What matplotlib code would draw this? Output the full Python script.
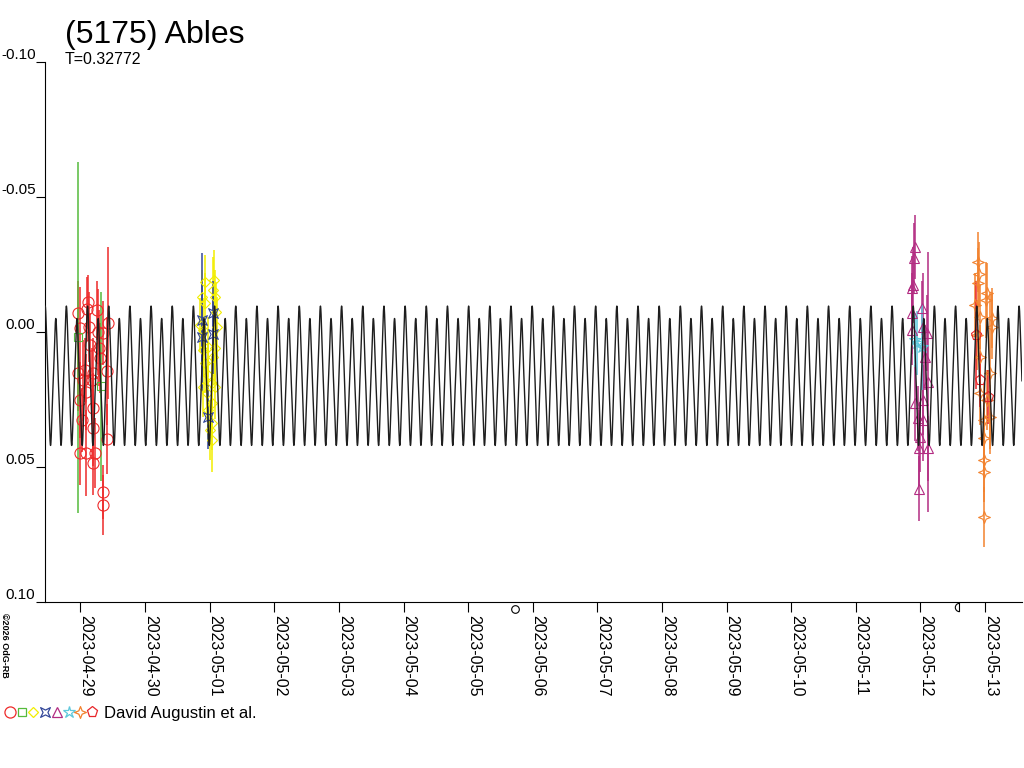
import numpy as np
import matplotlib
matplotlib.use('Agg')
import matplotlib.pyplot as plt
import matplotlib.dates as mdates
from matplotlib.path import Path
from matplotlib.transforms import blended_transform_factory, ScaledTranslation
from datetime import datetime

plt.rcParams['font.family'] = ['Liberation Sans', 'DejaVu Sans']

# ---------------- text ----------------
TITLE = '(5175) Ables'
PERIOD_TEXT = 'T=0.32772'
CREDIT = 'David Augustin et al.'
COPYRIGHT = '\u00a92026 OdG-RB'

# ---------------- data ----------------
DAY0 = datetime(2023, 4, 29)          # times below are days after this date (UTC)
PERIOD = 0.32772                      # days

# model light curve: mag = c0 + sum a_k cos(2 pi k phase)
model_epoch = 5.025                   # days after DAY0 (main maximum)
model_c0 = 0.01735
model_cos = [-0.0023, -0.0222, 0.0, 0.0, 0.0, -0.00245]

red_t = [-0.039, 0.116, 0.101, 0.255, 0.426, -0.008, 0.132, 0.271, 0.348, 0.286,
         0.302, 0.070, -0.039, 0.410, 0.193, 0.039, 0.178, -0.008, 0.193, 0.023,
         0.193, 0.410, -0.008, 0.224, 0.085, 0.193, 0.348, 0.348, 0.147, 0.085]
red_mag = [-0.0070, -0.0110, -0.0085, -0.0080, -0.0033, -0.0015, -0.0019, 0.0000, 0.0004, 0.0059,
           0.0096, 0.0141, 0.0152, 0.0144, 0.0152, 0.0178, 0.0178, 0.0252, 0.0281, 0.0326,
           0.0356, 0.0396, 0.0448, 0.0448, 0.0448, 0.0485, 0.0593, 0.0641, 0.0048, 0.0222]
red_err = [0.012, 0.010, 0.012, 0.011, 0.028, 0.015, 0.013, 0.016, 0.012, 0.014,
           0.013, 0.012, 0.014, 0.020, 0.013, 0.015, 0.012, 0.014, 0.013, 0.012,
           0.014, 0.013, 0.012, 0.013, 0.016, 0.012, 0.010, 0.011, 0.012, 0.014]

green_t = [-0.039, 0.317]
green_mag = [0.0019, 0.0200]
green_err = [0.065, 0.035]

yellow_t = [1.881, 1.927, 2.051, 2.082, 2.098, 1.850, 1.896, 2.113, 1.896, 1.974,
            2.082, 2.051, 1.927, 1.974, 2.036, 1.896, 2.082, 1.958, 2.036, 1.974,
            2.036, 2.005, 2.036, 1.927, 2.067]
yellow_mag = [-0.0130, -0.0107, -0.0156, -0.0130, -0.0074, -0.0026, -0.0007, -0.0019, 0.0067, 0.0056,
              0.0059, 0.0093, 0.0115, 0.0159, 0.0189, 0.0204, 0.0204, 0.0226, 0.0263, 0.0289,
              0.0337, 0.0363, 0.0400, -0.0185, -0.0193]
yellow_err = [0.010, 0.011, 0.012, 0.010, 0.011, 0.010, 0.012, 0.011, 0.010, 0.011,
              0.012, 0.010, 0.011, 0.012, 0.010, 0.011, 0.012, 0.010, 0.011, 0.012,
              0.010, 0.011, 0.012, 0.010, 0.011]

blue_t = [1.881, 1.881, 2.051, 2.051, 1.974]
blue_mag = [-0.0044, 0.0019, -0.0070, 0.0007, 0.0315]
blue_err = [0.025, 0.020, 0.012, 0.015, 0.012]

magenta_t = [12.918, 12.903, 12.887, 12.872, 12.872, 13.026, 12.872, 13.042, 13.104, 13.073,
             13.119, 13.042, 12.918, 12.964, 13.042, 12.995, 12.980, 13.119, 12.980]
magenta_mag = [-0.0315, -0.0274, -0.0174, -0.0163, -0.0070, -0.0089, -0.0007, -0.0019, 0.0004, 0.0093,
               0.0185, 0.0252, 0.0263, 0.0319, 0.0326, 0.0389, 0.0430, 0.0430, 0.0581]
magenta_err = [0.012, 0.013, 0.014, 0.012, 0.015, 0.010, 0.013, 0.020, 0.014, 0.012,
               0.048, 0.013, 0.014, 0.012, 0.015, 0.013, 0.014, 0.012, 0.012]

cyan_t = [12.949, 13.026, 12.918]
cyan_mag = [0.0041, 0.0056, 0.0030]
cyan_err = [0.012, 0.016, 0.010]

orange_t = [13.893, 13.909, 13.893, 13.847, 14.033, 14.017, 13.924, 14.110, 13.878, 14.110,
            13.924, 14.079, 13.924, 14.033, 13.980, 14.079, 13.980, 13.980, 13.980, 13.980]
orange_mag = [-0.0259, -0.0215, -0.0181, -0.0100, -0.0144, -0.0119, -0.0056, -0.0052, 0.0011, -0.0019,
              0.0093, 0.0152, 0.0226, 0.0252, 0.0326, 0.0315, 0.0393, 0.0474, 0.0519, 0.0685]
orange_err = [0.011, 0.012, 0.013, 0.012, 0.011, 0.014, 0.012, 0.011, 0.013, 0.012,
              0.012, 0.030, 0.012, 0.011, 0.013, 0.012, 0.011, 0.012, 0.011, 0.011]

pent_t = [13.862, 13.924, 14.048]
pent_mag = [0.0011, 0.0178, 0.0241]
pent_err = [0.020, 0.010, 0.010]

full_moon_t = [6.732]
last_quarter_t = [13.603]

x_range = [-0.5495, 14.574]
y_ticks = [-0.10, -0.05, 0.00, 0.05, 0.10]

# ---------------- markers ----------------
bowtie = Path([(-1, -1), (0, -0.5), (1, -1), (0.5, 0), (1, 1), (0, 0.5), (-1, 1), (-0.5, 0), (-1, -1)],
              [Path.MOVETO] + [Path.LINETO] * 7 + [Path.CLOSEPOLY])
star4 = Path([(0, 1), (0.28, 0.28), (1, 0), (0.28, -0.28), (0, -1), (-0.28, -0.28), (-1, 0), (-0.28, 0.28), (0, 1)],
             [Path.MOVETO] + [Path.LINETO] * 7 + [Path.CLOSEPOLY])
half_moon = Path([(0, 1), (-0.552, 1), (-1, 0.552), (-1, 0), (-1, -0.552), (-0.552, -1), (0, -1), (0, 1)],
                 [Path.MOVETO, Path.CURVE4, Path.CURVE4, Path.CURVE4, Path.CURVE4, Path.CURVE4, Path.CURVE4,
                  Path.CLOSEPOLY])

series = [
    (red_t, red_mag, red_err, '#ee2a2a', 'o', 8.0),
    (green_t, green_mag, green_err, '#55bb3c', 's', 6.0),
    (yellow_t, yellow_mag, yellow_err, '#f2ee00', 'D', 5.6),
    (blue_t, blue_mag, blue_err, '#34489a', bowtie, 7.0),
    (magenta_t, magenta_mag, magenta_err, '#b32c82', '^', 7.5),
    (cyan_t, cyan_mag, cyan_err, '#5ec8dc', '*', 9.0),
    (orange_t, orange_mag, orange_err, '#f2822e', star4, 8.5),
    (pent_t, pent_mag, pent_err, '#e8262a', 'p', 8.0),
]

# ---------------- figure ----------------
W, H = 1024, 768
fig = plt.figure(figsize=(W / 100, H / 100), dpi=100)
ax = fig.add_axes([45 / W, (H - 602) / H, (1022 - 45) / W, 540 / H])

base = mdates.date2num(DAY0)

# model curve
tc = np.arange(x_range[0], x_range[1], 0.0008)
phase = ((tc - model_epoch) / PERIOD) % 1.0
mc = np.full_like(tc, model_c0)
for k, a in enumerate(model_cos, start=1):
    mc += a * np.cos(2 * np.pi * k * phase)
ax.plot(base + tc, mc, color='#1e1e1e', lw=1.0, zorder=3)

for t, m, e, c, mk, ms in series:
    ax.errorbar(base + np.array(t), m, yerr=e, fmt='none', ecolor=c, elinewidth=1.1, capsize=0, zorder=2)
    ax.plot(base + np.array(t), m, linestyle='none', marker=mk, markersize=ms,
            markerfacecolor='none', markeredgecolor=c, markeredgewidth=0.8, zorder=2.5)

ax.set_xlim(base + x_range[0], base + x_range[1])
ax.set_ylim(0.10, -0.10)

for s in ['top', 'right']:
    ax.spines[s].set_visible(False)
for s in ['left', 'bottom']:
    ax.spines[s].set_linewidth(0.8)
    ax.spines[s].set_color('black')

ax.set_yticks(y_ticks)
ax.set_yticklabels([])
ax.tick_params(axis='y', length=6.5, width=0.8, direction='out')
ytrans = blended_transform_factory(ax.transAxes, ax.transData)
for v in y_ticks:
    ax.text(-9.5 / 977, v, '%.2f' % v, transform=ytrans, ha='right', va='bottom', fontsize=11)

ax.xaxis.set_major_locator(mdates.DayLocator())
ax.xaxis.set_major_formatter(mdates.DateFormatter('%Y-%m-%d'))
ax.tick_params(axis='x', length=7.2, width=0.8, direction='out', pad=2, labelsize=11.5)
offset = ScaledTranslation(-2 / 100, 0, fig.dpi_scale_trans)
for lbl in ax.get_xticklabels():
    lbl.set_rotation(270)
    lbl.set_ha('left')
    lbl.set_va('top')
    lbl.set_transform(lbl.get_transform() + offset)

# moon phases below the axis
mtrans = blended_transform_factory(ax.transData, ax.transAxes)
ax.plot(base + np.array(full_moon_t), [-0.013] * len(full_moon_t), transform=mtrans, clip_on=False,
        linestyle='none', marker='o', markersize=5.5, markerfacecolor='none', markeredgecolor='black',
        markeredgewidth=0.8)
ax.plot(base + np.array(last_quarter_t), [-0.010] * len(last_quarter_t), transform=mtrans, clip_on=False,
        linestyle='none', marker=half_moon, markersize=6, markerfacecolor='none', markeredgecolor='black',
        markeredgewidth=0.8)

# titles
fig.text(65 / W, 1 - 43 / H, TITLE, fontsize=23, ha='left', va='baseline')
fig.text(65 / W, 1 - 64 / H, PERIOD_TEXT, fontsize=11.5, ha='left', va='baseline')

# copyright
fig.text(4 / W, 1 - 613 / H, COPYRIGHT, fontsize=6.5, rotation=270, ha='center', va='top',
         fontweight='bold')

# legend row
lax = fig.add_axes([0, 0, 1, 1], facecolor='none')
lax.set_xlim(0, W)
lax.set_ylim(H, 0)
lax.axis('off')
for i, (_, _, _, c, mk, ms) in enumerate(series):
    lax.plot([10 + 11.7 * i], [712], linestyle='none', marker=mk, markersize=ms,
             markerfacecolor='none', markeredgecolor=c, markeredgewidth=0.9)
lax.text(104, 718, CREDIT, fontsize=12, ha='left', va='baseline')

fig.savefig('out.png', dpi=100)
